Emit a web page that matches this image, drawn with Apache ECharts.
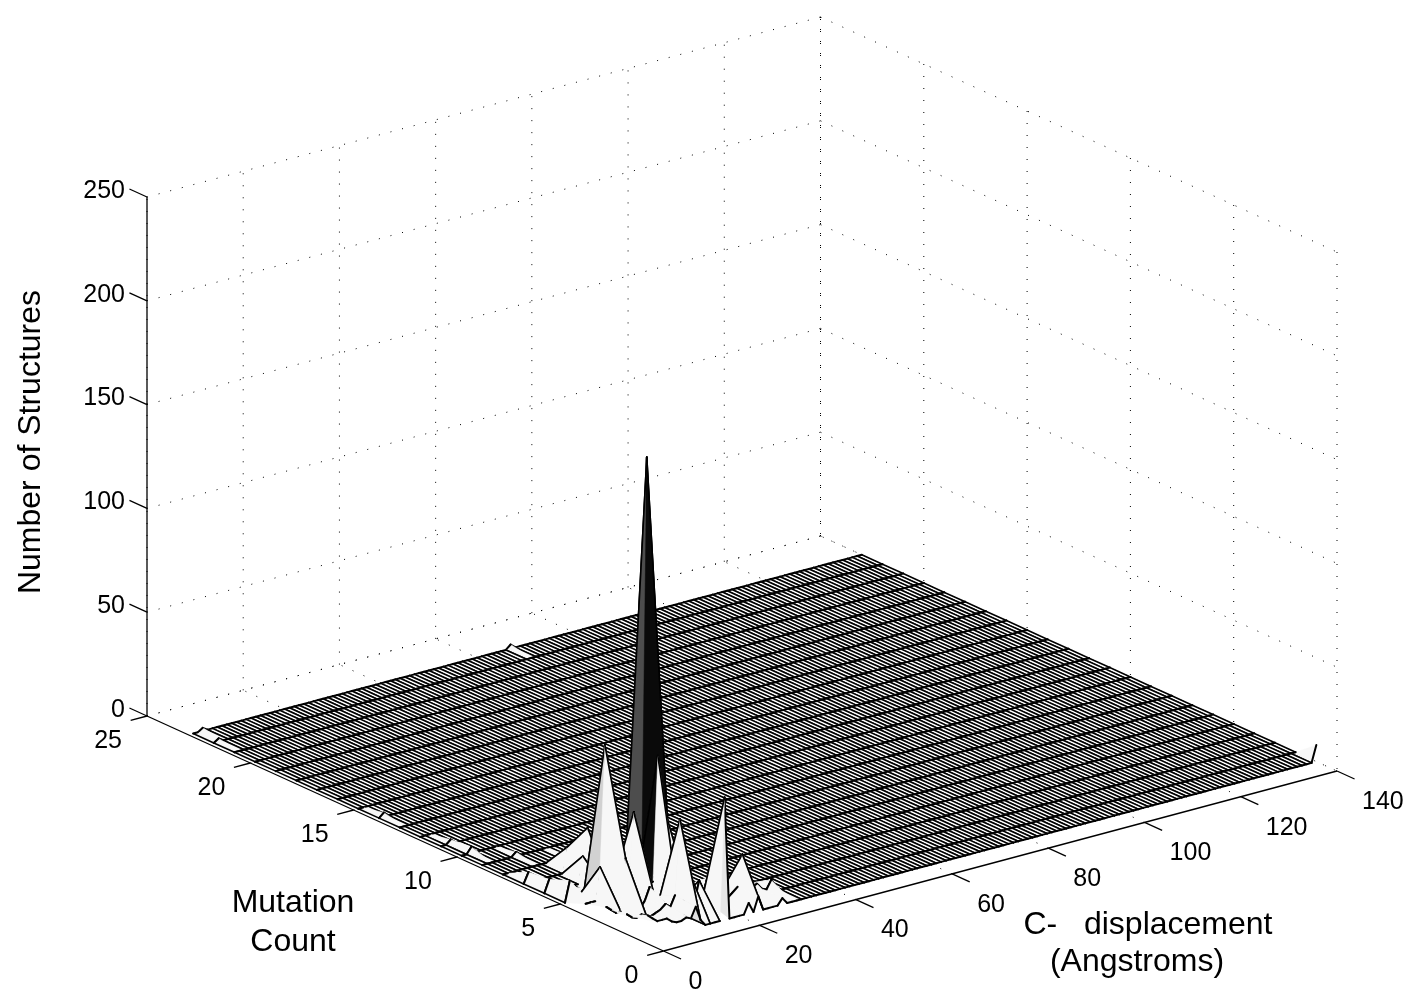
<!DOCTYPE html>
<html>
<head>
<meta charset="utf-8">
<style>html,body{margin:0;padding:0;background:#fff}#c{width:1407px;height:989px}</style>
<script src="https://cdn.jsdelivr.net/npm/echarts@6/dist/echarts.min.js"></script>
</head>
<body>
<div id="c"></div>
<script>
// ---- axis ticks and labels
var displacementTicks = [0, 20, 40, 60, 80, 100, 120, 140];
var mutationTicks = [0, 5, 10, 15, 20, 25];
var structureTicks = [0, 50, 100, 150, 200, 250];

// ---- surface grid extent
var displacementFirst = 1, displacementLast = 140;
var mutationFirst = 1, mutationLast = 23;

// ---- counts per mutation row, starting at displacement 1; everything further right is 0
var countsM1 = [12,10,8,8,8,6,5,5,6,5,10,3,0,0,0,0,59,0,0,0,0,5,0,7,0,0,0,0,3];
var countsM2 = [8,6,5,6,5,4,5,6,8,6,11,47,0,20,5,15,9,3,4,6,4,3,5,7,22,8,5,6,3,2,6,2];
var countsM3 = [7,5,3,3,28,11,3,2,5,11,6,4,2,1,0,0,0,4,5,6,0,8,0,4];
var countsM4 = [4,4,4,20,78,18,10,8,8,8,42,8,6,5,6,66,17,34,0,2];
var countsM5 = [0,10,2,2,4,4,0,3,3,3,3,3,3,3,0,0,18,204,6];
var countsM6 = [0,6,1,1,0,0,0,0,13,26,0,0,0,0,0,0,8,10,3];
var countsM7 = [0,5,0,0,0,0,0,0,0,12];
var countsM8 = [0,0];
// ---- isolated small counts: [displacement, mutation, count]
var isolatedCounts = [[3,10,3],[3,11,2],[2,14,2],[2,22,1.5],[3,23,1.5],[67,23,2],[140,1,8],[8,9,2],[14,8,2]];
var rowsByMutation = {1:countsM1,2:countsM2,3:countsM3,4:countsM4,5:countsM5,6:countsM6,7:countsM7,8:countsM8};

var xAxisTitle = 'C-   displacement', xAxisTitle2 = '(Angstroms)';
var yAxisTitle = 'Mutation', yAxisTitle2 = 'Count';
var zAxisTitle = 'Number of Structures';

// ---- view
var origin = [663.5, 951];
var axisX = [673.5 / 140, -180 / 140];
var axisY = [-516.5 / 25, -235 / 25];
var axisZ = -519 / 250;
function project(x, y, z) {
  return [origin[0] + axisX[0] * x + axisY[0] * y,
          origin[1] + axisX[1] * x + axisY[1] * y + axisZ * z];
}
var isoMap = {};
isolatedCounts.forEach(function (c) { isoMap[c[0] + ',' + c[1]] = c[2]; });
function height(x, y) {
  var k = x + ',' + y;
  if (k in isoMap) return isoMap[k];
  var r = rowsByMutation[y];
  if (r && x - displacementFirst < r.length) return r[x - displacementFirst];
  return 0;
}
// tones of the steep lit facets (cell = lower corner)
var facetTone = {'17,5':0.30,'17,4':0.04,'18,5':0.28,'18,4':0.06,'16,4':0.80,'15,4':0.04,
  '4,4':0.82,'5,4':0.82,'4,3':0.97,'5,3':0.97,'12,2':0.88,'12,1':0.88,'17,1':0.90,'10,4':0.97,'11,4':0.95};
function tone(x, y) {
  var k = x + ',' + y;
  if (k in facetTone) return facetTone[k];
  var a = height(x,y), b = height(x+1,y), c = height(x+1,y+1), d = height(x,y+1);
  if (a === 0 && b === 0 && c === 0 && d === 0) return 1;
  return 0.97;
}
// an edge of constant displacement shows when the floor is flat or the step is large;
// an edge of constant mutation shows unless it climbs steeply towards higher displacement
function showsAlongMutation(x, y) {
  var a = height(x, y), b = height(x, y + 1);
  return (a === 0 && b === 0) || Math.abs(a - b) >= 10;
}
function showsAlongDisplacement(x, y) {
  return height(x + 1, y) - height(x, y) <= 10;
}
var cells = [];
for (var yy = mutationLast - 1; yy >= mutationFirst; yy--) {
  for (var xx = displacementLast - 1; xx >= displacementFirst; xx--) {
    cells.push([xx, yy]);
  }
}
// ---- frame segments [x1,y1,z1,x2,y2,z2]
var dots = [], solids = [];
var xMax = 140, yMax = 25, zMax = 250;
displacementTicks.forEach(function (x) {
  if (x > 0) dots.push([x,0,0,x,yMax,0]);
  dots.push([x,yMax,0,x,yMax,zMax]);
  solids.push([x,0,0,x,-0.85,0]);
});
mutationTicks.forEach(function (y) {
  if (y > 0) dots.push([0,y,0,xMax,y,0]);
  dots.push([xMax,y,zMax,xMax,y,0]);
  solids.push([0,y,0,-3.4,y,0]);
});
structureTicks.forEach(function (z) {
  dots.push([0,yMax,z,xMax,yMax,z]);
  dots.push([xMax,yMax,z,xMax,0,z]);
  solids.push([0,yMax,z,0,yMax+0.85,z]);
});
solids.push([0,0,0,xMax,0,0],[0,0,0,0,yMax,0],[0,yMax,0,0,yMax,zMax]);

function seg(api, s) {
  var a = api.coord(project(s[0],s[1],s[2])), b = api.coord(project(s[3],s[4],s[5]));
  return {x1:a[0],y1:a[1],x2:b[0],y2:b[1]};
}
var font = '"Liberation Sans", Arial, sans-serif';
var tickLabels = [];
structureTicks.forEach(function (z) { tickLabels.push({p:[0,yMax,z], dx:-22, dy:-6, t:String(z), a:'right'}); });
mutationTicks.forEach(function (y) { tickLabels.push({p:[0,y,0], dx:-25, dy:25, t:String(y), a:'right'}); });
displacementTicks.forEach(function (x) { tickLabels.push({p:[x,0,0], dx:25, dy:31, t:String(x), a:'left'}); });

var titles = [
  {t:zAxisTitle, x:31, y:442, r:Math.PI/2, a:'center'},
  {t:yAxisTitle, x:293, y:903, r:0, a:'center'},
  {t:yAxisTitle2, x:293, y:942, r:0, a:'center'},
  {t:xAxisTitle, x:1148, y:925, r:0, a:'center'},
  {t:xAxisTitle2, x:1137, y:962, r:0, a:'center'}
];

function edge(api, x1, y1, x2, y2, w) {
  var a = api.coord(project(x1,y1,height(x1,y1))), b = api.coord(project(x2,y2,height(x2,y2)));
  return {type:'line',shape:{x1:a[0],y1:a[1],x2:b[0],y2:b[1]},style:{stroke:'#000',lineWidth:w,fill:null,lineCap:'round'}};
}
var option = {
  animation:false,
  backgroundColor:'#fff',
  grid:{left:0,right:0,top:0,bottom:0},
  xAxis:{type:'value',min:0,max:1407,show:false},
  yAxis:{type:'value',min:0,max:989,inverse:true,show:false},
  series:[
    {type:'custom',coordinateSystem:'cartesian2d',silent:true,z:1,progressive:0,data:dots.map(function(_,i){return [i];}),
     renderItem:function(p,api){return {type:'line',shape:seg(api,dots[p.dataIndex]),
       style:{stroke:'#000',lineWidth:1,lineDash:[1,11],fill:null}};}},
    {type:'custom',coordinateSystem:'cartesian2d',silent:true,z:2,progressive:0,data:solids.map(function(_,i){return [i];}),
     renderItem:function(p,api){return {type:'line',shape:seg(api,solids[p.dataIndex]),
       style:{stroke:'#000',lineWidth:1.3,fill:null}};}},
    {type:'custom',coordinateSystem:'cartesian2d',silent:true,z:3,progressive:0,data:cells,
     encode:{x:0,y:1},clip:false,
     renderItem:function(p,api){
       var c = cells[p.dataIndex], x=c[0], y=c[1];
       var pts=[[x,y],[x+1,y],[x+1,y+1],[x,y+1]].map(function(q){return api.coord(project(q[0],q[1],height(q[0],q[1])));});
       var v=Math.round(tone(x,y)*255), col='rgb('+v+','+v+','+v+')';
       var kids=[{type:'polygon',shape:{points:pts},style:{fill:col,stroke:col,lineWidth:0.5}}];
       var hw=1.6, tw=2.0;
       if (showsAlongDisplacement(x,y+1)) kids.push(edge(api,x,y+1,x+1,y+1,tw));
       if (showsAlongMutation(x+1,y)) kids.push(edge(api,x+1,y,x+1,y+1,hw));
       if (showsAlongMutation(x,y)) kids.push(edge(api,x,y,x,y+1,hw));
       if (showsAlongDisplacement(x,y)) kids.push(edge(api,x,y,x+1,y,tw));
       return {type:'group',children:kids};
     }},
    {type:'custom',coordinateSystem:'cartesian2d',silent:true,z:4,progressive:0,data:tickLabels.map(function(_,i){return [i];}),
     renderItem:function(p,api){
       var l=tickLabels[p.dataIndex], q=api.coord(project(l.p[0],l.p[1],l.p[2]));
       return {type:'text',x:q[0]+l.dx,y:q[1]+l.dy,style:{text:l.t,font:'25px '+font,fill:'#000',align:l.a,verticalAlign:'middle'}};
     }},
    {type:'custom',coordinateSystem:'cartesian2d',silent:true,z:4,progressive:0,data:titles.map(function(_,i){return [i];}),
     renderItem:function(p,api){
       var l=titles[p.dataIndex], q=api.coord([l.x,l.y]);
       return {type:'text',x:q[0],y:q[1],rotation:l.r,style:{text:l.t,font:'32px '+font,fill:'#000',align:l.a,verticalAlign:'middle'}};
     }}
  ]
};
var chart = echarts.init(document.getElementById('c'),null,{renderer:'canvas'});
chart.setOption(option);
</script>
</body>
</html>
